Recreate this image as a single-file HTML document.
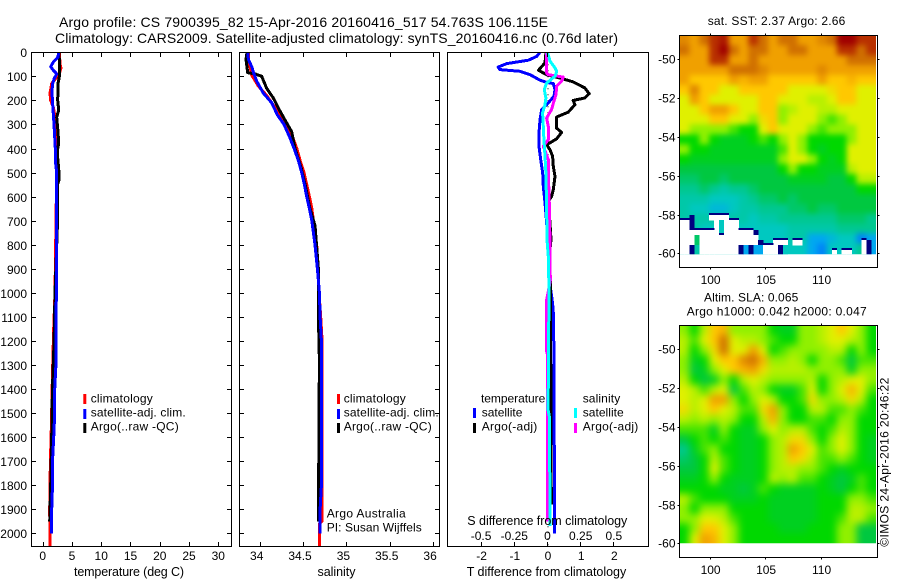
<!DOCTYPE html>
<html>
<head>
<meta charset="utf-8">
<title>Argo profile</title>
<style>
html,body{margin:0;padding:0;background:#fff;}
svg{display:block;font-family:"Liberation Sans",sans-serif;font-size:12px;fill:#000;}
.title{font-size:14px;}
.lab{font-size:12.5px;}
.frame{fill:none;stroke:#000;stroke-width:1.2;shape-rendering:crispEdges;}
</style>
</head>
<body>
<svg id="chart" width="900" height="580" viewBox="0 0 900 580" xmlns="http://www.w3.org/2000/svg">
<defs>
<filter id="blurSst" x="-10%" y="-10%" width="120%" height="120%" color-interpolation-filters="sRGB"><feGaussianBlur stdDeviation="3"/></filter>
<filter id="blurSla" x="-10%" y="-10%" width="120%" height="120%" color-interpolation-filters="sRGB"><feGaussianBlur stdDeviation="4"/></filter>
<clipPath id="clipSst"><rect x="679.3" y="35.3" width="196.7" height="219"/></clipPath>
<clipPath id="clipSla"><rect x="679.3" y="325" width="196.7" height="218.3"/></clipPath>
<clipPath id="clipT"><rect x="31.5" y="52.3" width="200" height="494"/></clipPath>
<clipPath id="clipS"><rect x="239.5" y="52.3" width="200" height="494"/></clipPath>
<clipPath id="clipD"><rect x="447.5" y="52.3" width="201" height="494"/></clipPath>
</defs>

<text class="title" x="59" y="27" textLength="489" lengthAdjust="spacing">Argo profile: CS 7900395_82 15-Apr-2016 20160416_517 54.763S 106.115E</text>
<text class="title" x="55" y="43" textLength="563" lengthAdjust="spacing">Climatology: CARS2009. Satellite-adjusted climatology: synTS_20160416.nc (0.76d later)</text>

<g id="marksT" clip-path="url(#clipT)"></g>
<g id="marksS" clip-path="url(#clipS)"></g>
<g id="marksD" clip-path="url(#clipD)"></g>
<g id="axes"></g>

<rect class="frame" x="31.5" y="52.5" width="200" height="494"/>
<rect class="frame" x="239.5" y="52.5" width="200" height="494"/>
<rect class="frame" x="447.5" y="52.5" width="201" height="494"/>

<text class="lab" x="74" y="576" textLength="110" lengthAdjust="spacing">temperature (deg C)</text>
<text class="lab" x="317.5" y="576" textLength="38" lengthAdjust="spacing">salinity</text>
<text class="lab" x="466.7" y="576" textLength="159.5" lengthAdjust="spacing">T difference from climatology</text>
<text class="lab" x="467.3" y="525" textLength="160" lengthAdjust="spacing">S difference from climatology</text>

<g>
<rect x="83.3" y="394" width="3" height="10" fill="#f00"/>
<rect x="83.3" y="409" width="3" height="10" fill="#00f"/>
<rect x="83.3" y="423" width="3" height="10" fill="#000"/>
<text x="90.7" y="402.7" textLength="62" lengthAdjust="spacing">climatology</text>
<text x="90.7" y="416.7" textLength="95" lengthAdjust="spacing">satellite-adj. clim.</text>
<text x="90.7" y="430.7" textLength="88" lengthAdjust="spacing">Argo(..raw -QC)</text>
</g>
<g>
<rect x="337" y="394" width="3" height="10" fill="#f00"/>
<rect x="337" y="409" width="3" height="10" fill="#00f"/>
<rect x="337" y="423" width="3" height="10" fill="#000"/>
<text x="343.7" y="402.7" textLength="62" lengthAdjust="spacing">climatology</text>
<text x="343.7" y="416.7" textLength="95" lengthAdjust="spacing">satellite-adj. clim.</text>
<text x="343.7" y="430.7" textLength="88" lengthAdjust="spacing">Argo(..raw -QC)</text>
</g>
<text x="326.7" y="517.7" textLength="79" lengthAdjust="spacing">Argo Australia</text>
<text x="326.7" y="531.7" textLength="95" lengthAdjust="spacing">PI: Susan Wijffels</text>

<g>
<text x="481" y="402.7" textLength="64.3" lengthAdjust="spacing">temperature</text>
<text x="582.7" y="402.7" textLength="37.5" lengthAdjust="spacing">salinity</text>
<rect x="473" y="408" width="3" height="10" fill="#00f"/>
<rect x="473" y="423" width="3" height="10" fill="#000"/>
<rect x="574" y="408" width="3" height="10" fill="#0ff"/>
<rect x="574" y="423" width="3" height="10" fill="#f0f"/>
<text x="481.7" y="416.7" textLength="40.7" lengthAdjust="spacing">satellite</text>
<text x="481.7" y="430.7" textLength="55.6" lengthAdjust="spacing">Argo(-adj)</text>
<text x="582.7" y="416.7" textLength="41" lengthAdjust="spacing">satellite</text>
<text x="582.7" y="430.7" textLength="55.6" lengthAdjust="spacing">Argo(-adj)</text>
</g>

<text x="707.7" y="25" textLength="137.6" lengthAdjust="spacing">sat. SST: 2.37 Argo: 2.66</text>
<text x="704" y="301.7" textLength="94.3" lengthAdjust="spacing">Altim. SLA: 0.065</text>
<text x="686.7" y="315.7" textLength="180" lengthAdjust="spacing">Argo h1000: 0.042 h2000: 0.047</text>

<g clip-path="url(#clipSst)"><g id="sstCells" filter="url(#blurSst)"></g><g id="sstGaps"></g></g>
<g clip-path="url(#clipSla)"><g id="slaCells" filter="url(#blurSla)"></g></g>
<rect class="frame" x="679.5" y="35.5" width="198" height="232"/>
<rect class="frame" x="679.5" y="325.5" width="198" height="232"/>
<g id="mapAxes"></g>

<text transform="translate(888.7,546.7) rotate(-90)" textLength="169" lengthAdjust="spacing">©IMOS 24-Apr-2016 20:46:22</text>
</svg>

<script>
// ---------- axis tick labels ----------
var depthTicks = [0,100,200,300,400,500,600,700,800,900,1000,1100,1200,1300,1400,1500,1600,1700,1800,1900,2000];
var tempTicks = [0,5,10,15,20,25,30];
var salTicks = ["34","34.5","35","35.5","36"];
var tDiffTicks = [-2,-1,0,1,2];
var sDiffTicks = ["-0.5","-0.25","0","0.25","0.5"];
var lonTicks = [100,105,110];
var latTicks = [-50,-52,-54,-56,-58,-60];

// ---------- temperature profiles ----------
var climTDepth = [0,50,65,80,100,130,170,200,230,270,300,400,500,1000,1150,1350,1550,1700,1900,2053];
var climT = [2.85,2.96,3.13,2.96,2.51,1.54,1.25,1.37,1.82,2.11,2.39,2.51,2.39,2.11,1.88,1.65,1.48,1.31,1.2,1.25];
var argoTDepth = [0,30,100,130,200,240,270,330,380,400,440,500,530,550,720,1000,1200,1400,1600,1800,1950];
var argoT = [2.73,2.85,2.85,2.62,2.56,2.73,2.39,2.62,2.73,2.56,2.56,2.79,2.79,2.51,2.51,2.11,1.94,1.65,1.54,1.37,1.2];
var satTDepth = [0,20,40,60,75,90,110,130,160,200,260,320,400,450,500,700,900,1000,1100,1300,1400,1500,1600,1700,1800,1900,2000];
var satT = [2.73,2.62,1.82,1.37,1.82,2.39,1.94,1.71,1.59,1.65,1.82,1.99,2.16,2.16,2.39,2.39,2.33,2.34,2.28,2.25,2.05,2.05,1.88,1.68,1.68,1.54,1.48];

// ---------- salinity profiles ----------
var climSDepth = [0,30,60,95,140,180,230,270,300,350,400,450,500,550,600,650,700,800,900,1000,1100,1200,1950,1960,2053];
var climS = [33.904,33.904,33.923,33.942,34.019,34.115,34.212,34.288,34.346,34.412,34.462,34.5,34.546,34.577,34.608,34.635,34.654,34.692,34.704,34.719,34.738,34.754,34.754,34.723,34.723];
var argoSDepth = [0,30,85,90,100,150,190,240,270,330,400,480,550,650,720,900,1000,1100,1280,1950];
var argoS = [33.888,33.877,33.896,33.981,34.058,34.115,34.192,34.262,34.308,34.404,34.442,34.512,34.558,34.615,34.673,34.712,34.712,34.712,34.723,34.712];
var satSDepth = [0,30,60,90,120,170,210,260,300,350,400,450,500,550,600,650,700,800,900,1000,1100,1200,1800,1900,2000];
var satS = [33.896,33.904,33.942,33.969,34,34.077,34.173,34.238,34.315,34.377,34.431,34.481,34.519,34.55,34.577,34.608,34.635,34.673,34.7,34.723,34.731,34.746,34.746,34.731,34.731];

// ---------- difference profiles ----------
var tSatDepth = [0,17,33,47,61,72,79,93,116,125,130,155,183,218,238,280,335,391,446,502,557,626,710,779,848,987,1044,1099,1362,2000];
var tSatDiff = [-0.21,-0.31,-0.56,-1.21,-1.47,-1.42,-0.81,-0.51,-0.21,-0.01,0.19,0.24,0.21,-0.01,-0.16,-0.21,-0.24,-0.24,-0.19,-0.13,-0.11,-0.06,-0.01,0.01,0.07,0.11,0.17,0.2,0.21,0.23];
var tArgoDepth = [0,44,75,93,107,123,148,172,190,200,218,249,269,315,333,360,384,405,432,474,516,571,599,620,710,779,850,987,1100,1400,1880];
var tArgoDiff = [-0.03,-0.06,-0.26,-0.01,0.39,0.79,1.14,1.27,1.14,0.79,0.84,0.64,0.29,0.29,0.44,0.29,-0.01,0.09,0.17,0.19,0.24,0.19,0.14,0.04,0.09,0.12,0.07,0.11,0.1,0.12,0.13];
var sArgoDepth = [0,86,93,103,120,141,176,211,238,273,308,363,391,446,500,640,848,950,1030,1238,1255,1500,1950];
var sArgoDiff = [-0.003,-0.003,0.01,0.123,0.11,0.073,0.068,0.048,0.035,-0.003,0.01,0.01,-0.028,0.01,0.01,0.018,0.023,0.025,-0.003,-0.005,0.003,0.003,0.005];
var sSatDepth = [0,37,65,79,100,128,155,190,218,252,308,363,432,502,640,779,848,987,1487,1515,1970];
var sSatDiff = [0.003,0.023,0.06,0.073,0.06,-0.003,-0.02,-0.008,-0.015,-0.033,-0.028,-0.023,-0.015,-0.008,-0.003,0,0.01,0.015,0.008,0.018,0.023];

// ---------- SST map levels (row = north to south, col = west to east) ----------
var sstLevels = [
[10.5,10,11,12,12.5,10,10,12,11,10,11,11,10,10,10.5,11,13,13,12,12],
[11,10,10,12,13,11,10,11,11,10,10,11,11,10,10,10,12,12,11,12],
[10,10,10,12,12,10,10,11,10,10,10,10,10,10,10,10,10,11,11,11],
[10,10,10,10,10,11,11,11,10.5,10,10,10,10,10,10.5,10,10,10,10,10],
[10,9,9,9,9,10,9.5,10,10,9,9,9,9,9,10,9,9,9.5,9,9],
[9,10.5,9,9,8,8,9,9,9,9,9,8,8,8,8,8.5,9,9,8,8],
[8,10,9,8,8,8,8,8,9,9,8,8,8,7.5,7.5,8,9,9,8,8],
[8,8,9,10,10,9,8,8,9,9,7,7.5,8,8,7.5,7.5,8,8,8,8],
[8,8,8,9,9,8,8,7,8.5,9,7,8,8,8,7,6.5,7,8,8,8],
[8,7,7,7,7,6.5,6,6,8,9,8,8,8,7,6.5,7,7,7,8,8],
[6,6,7,6,5.5,5.5,5.5,6,6.5,6,7,8,7,6,6,6,6,7,8,8],
[7,6,6,5.5,5.5,5.5,5.5,5.5,5.5,5.5,6.5,8,7,6,5.5,6,6,8,8,8],
[6,5.5,5.5,5.5,5.5,5.5,5.5,5.5,5.5,5.5,7,8,8,7,6,5.5,6,8,8,8],
[5,5,5,5,5,5,5,5,5,5,6,7,6,6,5.5,5.5,5.5,7.5,8,8],
[4.5,4.5,5,5,4.5,5,5,5,5,5,5,5.5,5.5,5.5,5.5,5,5,6,7.5,7.5],
[4,4,4.5,4,3.5,4,4,4.5,5,5,5,5,5,5,5,5,5,5,6,6],
[3.5,3.5,3.5,3,3,3,3.5,4,4.5,4.5,5,4.5,5,5,5,5,5,5,5,5],
[3.5,3,3,2.5,2.5,3,3.5,3.5,4,4,4,4.5,4.5,5,4.5,4.5,5,5,5,5],
[3.5,3.5,3.5,3.5,3.5,3.5,3.5,3,3.5,3.5,4,4,4,4,4,4,4.5,4.5,4.5,4],
[3.5,3.5,3,3,3,3,3,3,3,3,3,3.5,3.5,3.5,3.5,3.5,4,4,4,4],
[3.5,4,3.5,3.5,3,3,3,3,3,3,3,3.5,3.5,2,2,2.5,3,3,1.5,2],
[3,4,3.5,3,3,3,2,2,3,3,3,3,3,2,1.5,3,3,3,4,2]
];

// ---------- SST coastal strip: -1 = no data (white), null = use main grid, otherwise a level ----------
var _ = null, W = -1;
var sstStrip = [
[_,_,0,_,_,_,W,W,W,W, _,_,_,_,_,_,_,_,_,_, _,_,_,_,_,_,_,_,_,_, _,_,_,_,_,_,_,_,_,_],
[W,W,0,_,_,_,_,W,3,W, W,W,_,_,_,_,_,_,_,_, _,_,_,_,_,_,_,_,_,_, _,_,_,_,_,_,_,_,_,_],
[W,W,0,_,_,_,_,W,3,W, W,W,_,_,_,_,_,_,_,_, _,_,_,_,_,_,_,_,_,_, _,_,_,_,_,_,_,_,_,_],
[W,W,W,W,W,W,W,W,3,W, W,W,W,W,W,0,_,_,_,_, _,_,_,_,_,_,_,_,_,_, _,_,_,_,_,_,_,_,_,_],
[W,W,W,4.5,W,W,W,W,W,W, W,W,W,W,W,W,_,_,_,_, _,_,_,_,_,_,_,_,_,_, _,_,_,_,_,_,_,_,_,_],
[W,W,W,4.5,W,W,W,W,W,W, W,W,W,W,W,W,0,_,_,W, W,W,_,W,W,_,_,_,_,_, _,_,_,_,_,_,_,W,0,_],
[W,W,0,3.5,W,W,W,W,W,W, W,W,0,2,0,2,2,W,W,W, 0,3,_,_,_,_,_,_,_,_, _,_,_,_,_,_,_,W,0,_],
[W,W,0,3.5,W,W,W,W,W,W, W,W,0,2,0,2,2,W,W,W, 0,3,_,_,_,_,_,_,_,_, _,W,_,W,W,_,_,W,0,_]
];
var stripTopLat = -58.03, stripRowDeg = 0.2577;

// ---------- SLA map levels ----------
var slaLevels = [
[7,6,7.5,9,9.5,7,7,7,7,6,5.5,5.5,7,7,7.5,8,9,8,7,6],
[7.5,6.5,8,9,11,8,7.5,7.5,7,6.5,6,6,7,7,7.5,8,8,7.5,7,6],
[7.5,6,7,8.5,11,8,8,10,8,6,6.5,7,7,7,7,7.5,7.5,6,7,6],
[7,5.5,6,8,9,9,10.5,11,9.5,7,7,7.5,7,6,7,7,6.5,5,6.5,6.5],
[7,5,5.5,7,8,9,9.5,10,8.5,7.5,7.5,7.5,7.5,7,7,7,7,5.5,7,7],
[7.5,6,5,5.5,7,6,7.5,8,7.5,7,7,7,7,7.5,6,7,7.5,8,8,7],
[8,7.5,6.5,7.5,8,5,6.5,7.5,7,6,5.5,5.5,6.5,8,6,7,8,9.5,8,6.5],
[8,7.5,8,10,10,7,6,7,8,7.5,6,6,6.5,8.5,7,7,7.5,8.5,7.5,6],
[8.5,7.5,8,9,8,7.5,6.5,6.5,8.5,10,7,6,6,7.5,7.5,6.5,6.5,7,6.5,6],
[7.5,7,7.5,7,7.5,7,6,6,7.5,9.5,7,6,6,6.5,6.5,6,7,7,6,6],
[6.5,6.5,6.5,5.5,7,6,5.5,5.5,7,8,7,7.5,7.5,6.5,6,6.5,7.5,7,6,6],
[5,6,6.5,6,6.5,6,5.5,5.5,6,7,7.5,8.5,8.5,7,6,7,8,7,6,5.5],
[4,5.5,6.5,7,6,6,5.5,5.5,6,7,7.5,10,9,8,6.5,7,8,7,6,5.5],
[4.5,5,6,7.5,6.5,6,5.5,5.5,6,7,7.5,9,8.5,7.5,6.5,6.5,7,6.5,6,5.5],
[5,5,6,8,6.5,6,5.5,5.5,6,7,7.5,7.5,7,7,6.5,6,5.5,6,6,6],
[5.5,5.5,6,7,6,5.5,5.5,5.5,6,7.5,7,7.5,6.5,6.5,6,5.5,5,5.5,6.5,6],
[6,6,6,6,5.5,5.5,5,5.5,6.5,6,5.5,5.5,5.5,5.5,6,5.5,5,6,6.5,6],
[7.5,6.5,6,6,6,5.5,5.5,5.5,6,5.5,5.5,5.5,5.5,5.5,6,6,6,7,7,6.5],
[7,6,7,7,7,6,6,6,6,5.5,5.5,5.5,5.5,5.5,6,6,6,7.5,7.5,7],
[7,7,8,8,7.5,6.5,6,6,6,5.5,5.5,5.5,5.5,5.5,6,6,6.5,7.5,7.5,6.5],
[6,7,9,9,8,7,6,6,6,6,5.5,5.5,5.5,6,6,6,7,7,5,5],
[6,8,10,9.5,8,7,6,6,6,6,6,6,6,6,6,6,7,7,5,5]
];
var colormap = ["#000080","#0060ff","#00a8f0","#00c8c0","#00c890","#00c840","#00d800","#90f000","#e0f000","#ffc800","#f0a000","#d07000","#b83000","#a00000"];

// ---------- axis functions ----------
function yDepth(d){ return 52.3 + 0.2405*d; }
function xTemp(t){ return 42.7 + 5.853*t; }
function xSal(s){ return 256.7 + 86.7*(s-34); }
function xTDiff(t){ return 547 + 33.2*t; }
function xSDiff(s){ return 547 + 132.8*s; }
function xLon(l){ return 709.6 + 11.1*(l-100); }
function ySstLat(l){ return 59.3 + 19.4*(-50-l); }
function ySlaLat(l){ return 349.3 + 19.4*(-50-l); }

var NS = "http://www.w3.org/2000/svg";
var axes = document.getElementById("axes");
var mapAxes = document.getElementById("mapAxes");

function seg(parent,x1,y1,x2,y2){
  var l = document.createElementNS(NS,"line");
  l.setAttribute("x1",x1); l.setAttribute("y1",y1);
  l.setAttribute("x2",x2); l.setAttribute("y2",y2);
  l.setAttribute("stroke","#000");
  l.setAttribute("stroke-width","1.2");
  l.setAttribute("shape-rendering","crispEdges");
  
  
  parent.appendChild(l);
}
function label(parent,x,y,str,anchor){
  var t = document.createElementNS(NS,"text");
  t.setAttribute("x",x); t.setAttribute("y",y);
  t.setAttribute("text-anchor",anchor||"middle");
  t.textContent = str;
  
  
  parent.appendChild(t);
}
function profile(parentId,depths,vals,xf,color,width){
  var p = document.createElementNS(NS,"polyline");
  var pts = [];
  for(var i=0;i<depths.length;i++){ pts.push(xf(vals[i]).toFixed(1)+","+yDepth(depths[i]).toFixed(1)); }
  p.setAttribute("points",pts.join(" "));
  p.setAttribute("fill","none");
  p.setAttribute("stroke",color);
  p.setAttribute("stroke-width",width);
  p.setAttribute("stroke-linejoin","round");
  p.setAttribute("shape-rendering","crispEdges");
  
  
  document.getElementById(parentId).appendChild(p);
}

// temperature, salinity and difference lines
profile("marksT",climTDepth,climT,xTemp,"#f00",3);
profile("marksT",argoTDepth,argoT,xTemp,"#000",3);
profile("marksT",satTDepth,satT,xTemp,"#00f",3);
profile("marksS",climSDepth,climS,xSal,"#f00",3);
profile("marksS",argoSDepth,argoS,xSal,"#000",3);
profile("marksS",satSDepth,satS,xSal,"#00f",3);

var zeroLine = document.createElementNS(NS,"line");
zeroLine.setAttribute("x1",xTDiff(0)+1);
zeroLine.setAttribute("x2",xTDiff(0)+1);
zeroLine.setAttribute("y1",yDepth(0));
zeroLine.setAttribute("y2",yDepth(2053));
zeroLine.setAttribute("stroke","#000");
zeroLine.setAttribute("stroke-dasharray","1 5");


document.getElementById("marksD").appendChild(zeroLine);

profile("marksD",tSatDepth,tSatDiff,xTDiff,"#00f",3);
profile("marksD",tArgoDepth,tArgoDiff,xTDiff,"#000",3);
profile("marksD",sArgoDepth,sArgoDiff,xSDiff,"#f0f",3);
profile("marksD",sSatDepth,sSatDiff,xSDiff,"#0ff",3);

// depth ticks & labels
depthTicks.forEach(function(d){
  var y = Math.round(yDepth(d))+0.5;
  seg(axes,31.5,y,36,y); seg(axes,227,y,231.5,y);
  seg(axes,239.5,y,244,y); seg(axes,435,y,439.5,y);
  label(axes,27,y+4.5,String(d),"end");
});
// x ticks
tempTicks.forEach(function(v){
  var x = Math.round(xTemp(v))+0.5;
  seg(axes,x,52.5,x,57); seg(axes,x,542,x,546.5);
  label(axes,xTemp(v),560,String(v));
});
salTicks.forEach(function(v){
  var x = Math.round(xSal(parseFloat(v)))+3.5;
  seg(axes,x,52.5,x,57); seg(axes,x,542,x,546.5);
  label(axes,xSal(parseFloat(v)),560,v);
});
tDiffTicks.forEach(function(v){
  var x = Math.round(xTDiff(v))+0.5;
  seg(axes,x,52.5,x,57); seg(axes,x,542,x,546.5);
  label(axes,xTDiff(v)+1,560,String(v));
});
sDiffTicks.forEach(function(v){
  label(axes,xSDiff(parseFloat(v))+0.5,540,v);
});

// heatmaps
function levelColor(v){
  var i = Math.floor(v), f = v-i;
  if(i>=colormap.length-1) return colormap[colormap.length-1];
  var a = colormap[i], b = colormap[i+1], out = "#";
  for(var k=1;k<7;k+=2){
    var ca = parseInt(a.substr(k,2),16), cb = parseInt(b.substr(k,2),16);
    var c = Math.round(ca+(cb-ca)*f);
    out += (c<16?"0":"")+c.toString(16);
  }
  return out;
}
var lonStart = 97.3, lonEnd = 115, latStart = -48.76, latEnd = -60;
function drawMap(levels,cellsId,yLat){
  var rows = levels.length, cols = levels[0].length;
  var dLon = (lonEnd-lonStart)/cols, dLat = (latStart-latEnd)/rows;
  for(var r=0;r<rows;r++){
    for(var c=0;c<cols;c++){
      var v = levels[r][c];
      var x0 = xLon(lonStart+c*dLon), x1 = xLon(lonStart+(c+1)*dLon);
      var y0 = yLat(latStart-r*dLat), y1 = yLat(latStart-(r+1)*dLat);
      if(c===0) x0 -= 12;
      if(c===cols-1) x1 += 12;
      if(r===0) y0 -= 12;
      if(r===rows-1) y1 += 12;
      var rc = document.createElementNS(NS,"rect");
      rc.setAttribute("x",x0.toFixed(2));
      rc.setAttribute("y",y0.toFixed(2));
      rc.setAttribute("width",(x1-x0+0.4).toFixed(2));
      rc.setAttribute("height",(y1-y0+0.4).toFixed(2));
      rc.setAttribute("fill",levelColor(v));
      
      
      document.getElementById(cellsId).appendChild(rc);
    }
  }
}
drawMap(sstLevels,"sstCells",ySstLat);
drawMap(slaLevels,"slaCells",ySlaLat);

// SST coastal strip, drawn crisp with the navy fringe along the tops of no-data areas
var stripGroup = document.getElementById("sstGaps");
var stripCols = sstStrip[0].length;
var stripLon = (lonEnd-lonStart)/stripCols;
sstStrip.forEach(function(row,r){
  row.forEach(function(v,c){
    if(v===null) return;
    var x0 = xLon(lonStart+c*stripLon), x1 = xLon(lonStart+(c+1)*stripLon);
    var y0 = ySstLat(stripTopLat-r*stripRowDeg), y1 = ySstLat(stripTopLat-(r+1)*stripRowDeg);
    var rc = document.createElementNS(NS,"rect");
    rc.setAttribute("x",x0.toFixed(2));
    rc.setAttribute("y",y0.toFixed(2));
    rc.setAttribute("width",(x1-x0+0.3).toFixed(2));
    rc.setAttribute("height",(y1-y0+0.3).toFixed(2));
    rc.setAttribute("fill",v===W?"#fff":levelColor(v));
    rc.setAttribute("shape-rendering","crispEdges");
    
    
    stripGroup.appendChild(rc);
    if(v===W && (r===0 || sstStrip[r-1][c]!==W)){
      var fringe = document.createElementNS(NS,"rect");
      fringe.setAttribute("x",x0.toFixed(2));
      fringe.setAttribute("y",(y0-2).toFixed(2));
      fringe.setAttribute("width",(x1-x0+0.3).toFixed(2));
      fringe.setAttribute("height","2");
      fringe.setAttribute("fill",colormap[0]);
      fringe.setAttribute("shape-rendering","crispEdges");
      
      
      stripGroup.appendChild(fringe);
    }
  });
});

// map ticks
function mapTicks(yLat,top,bottom,labelY){
  lonTicks.forEach(function(v){
    var x = Math.round(xLon(v))+0.5;
    seg(mapAxes,x,top-2,x,top); seg(mapAxes,x,bottom,x,bottom+2);
    label(mapAxes,xLon(v)+1,labelY,String(v));
  });
  latTicks.forEach(function(v){
    var y = Math.round(yLat(v))+0.5;
    seg(mapAxes,677.5,y,679.5,y); seg(mapAxes,877.5,y,879.5,y);
    label(mapAxes,675.5,y+4,String(v),"end");
  });
}
mapTicks(ySstLat,35.5,267.5,284);
mapTicks(ySlaLat,325.5,557.5,574);
</script>
</body>
</html>
